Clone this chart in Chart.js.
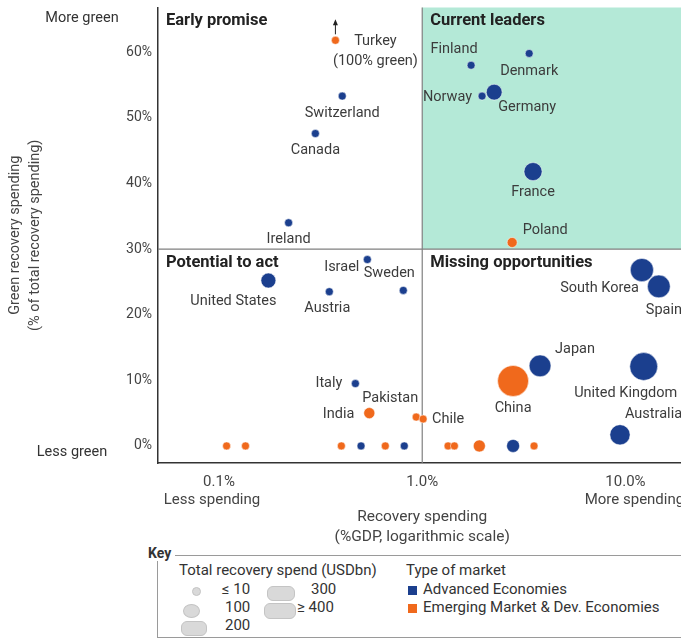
<!DOCTYPE html>
<html>
<head>
<meta charset="utf-8">
<script src="https://cdn.jsdelivr.net/npm/chart.js@4.4.1/dist/chart.umd.min.js"></script>
<style>
  html, body { margin:0; padding:0; background:#fff; overflow:hidden; width:681px; height:639px; }
  body { font-family: Roboto, "Noto Sans", sans-serif; color:#333; position:relative; }
  /* le débordement des bulles impose 16px de marge en haut et à droite : on décale le canvas */
  #cadre { position:absolute; left:0; top:-9px; width:704px; height:554px; }
  #cle { position:absolute; left:157px; top:555px; width:560px; height:81px;
         border:1px solid #9a9a9a; border-right:none; font-size:15px; }
  #cle span, #cle div { position:absolute; white-space:nowrap; }
  #cleTitre { left:-10px; top:-11px; background:#fff; font-weight:bold; padding-right:4px; font-size:14px; }
  .ico { background:#d9d9d9; border:1px solid #c4c4c4; border-radius:6px; }
  .carre { width:9px; height:9px; }
</style>
</head>
<body>
<div id="cadre"><canvas id="chart"></canvas></div>
<div id="cle">
  <span id="cleTitre">Key</span>
  <span style="left:21px;top:5px">Total recovery spend (USDbn)</span>
  <div class="ico" style="left:34px;top:31px;width:7px;height:7px;border-radius:50%"></div>
  <span style="left:64px;top:24px">≤ 10</span>
  <div class="ico" style="left:25px;top:48px;width:15px;height:12px;border-radius:50%"></div>
  <span style="left:67px;top:42px">100</span>
  <div class="ico" style="left:23px;top:65px;width:24px;height:13px"></div>
  <span style="left:67px;top:60px">200</span>
  <div class="ico" style="left:109px;top:30px;width:26px;height:13px"></div>
  <span style="left:153px;top:24px">300</span>
  <div class="ico" style="left:106px;top:47px;width:30px;height:14px"></div>
  <span style="left:139px;top:42px">≥ 400</span>
  <span style="left:248px;top:5px">Type of market</span>
  <div class="carre" style="left:250px;top:30px;background:#1b3f8e"></div>
  <span style="left:265px;top:24px">Advanced Economies</span>
  <div class="carre" style="left:250px;top:48px;background:#f0691c"></div>
  <span style="left:265px;top:42px">Emerging Market &amp; Dev. Economies</span>
</div>
<script>
// données
const pays = ['Turkey','Switzerland','Canada','Ireland','Finland','Denmark','Norway','Germany','France','Poland',
  'United States','Israel','Sweden','Austria','Italy','India','Pakistan','Chile',
  'South Korea','Spain','Japan','China','United Kingdom','Australia',
  '','','','','','','','','','',''];
// dépense de relance en % du PIB
const depensePIB = [0.374,0.404,0.298,0.22,1.74,3.36,1.97,2.26,3.51,2.77,
  0.175,0.537,0.807,0.349,0.469,0.549,0.934,1.01,
  12.05,14.6,3.8,2.8,12.3,9.4,
  0.109,0.135,0.40,0.50,0.658,0.816,1.34,1.44,1.91,2.8,3.55];
// part verte de la dépense (%)
const partVerte = [61.8,53.3,47.6,34.0,58.0,59.8,53.3,53.9,41.8,31.0,
  25.2,28.4,23.7,23.5,9.5,5.0,4.4,4.1,
  26.8,24.3,12.2,9.9,12.1,1.7,
  0,0,0,0,0,0,0,0,0,0,0];
// dépense totale (USDbn)
const depenseTotale = [10,10,10,10,10,10,10,55,85,13,
  45,10,10,10,10,17,10,10,
  180,170,150,400,300,120,
  10,10,10,10,10,10,10,10,22,28,10];
// A = économie avancée, E = émergente
const typeMarche = ['E','A','A','A','A','A','A','A','A','E',
  'A','A','A','A','A','E','E','E',
  'A','A','A','E','A','A',
  'E','E','E','A','E','A','E','E','E','A','E'];

const ticksX = [0.1, 1, 10];
const labelsX = ['0.1%', '1.0%', '10.0%'];
const ticksY = [0, 10, 20, 30, 40, 50, 60];
const seuilDepense = 1;
const seuilVert = 30;

const bleu = '#1b3f8e';
const orange = '#f0691c';

// placement des étiquettes [dx, dy, alignement]
const placement = {
  'Turkey':[40,1,'center'], 'Switzerland':[0,17,'center'], 'Canada':[0,17,'center'], 'Ireland':[0,17,'center'],
  'Finland':[-17,-16,'center'], 'Denmark':[0,18,'center'], 'Norway':[-10,1,'right'], 'Germany':[33,15,'center'],
  'France':[0,21,'center'], 'Poland':[33,-12,'center'], 'United States':[-35,21,'center'], 'Israel':[-8,8,'right'],
  'Sweden':[-14,-17,'center'], 'Austria':[-2,17,'center'], 'Italy':[-13,0,'right'], 'India':[-15,1,'right'],
  'Pakistan':[-26,-19,'center'], 'Chile':[9,0,'left'], 'South Korea':[-3,18,'right'], 'Spain':[-13,24,'left'],
  'Japan':[15,-16,'left'], 'China':[0,27,'center'], 'United Kingdom':[-18,27,'center'], 'Australia':[5,-20,'left']
};
const texteLabel = { 'Turkey':['Turkey','(100% green)'] };

function rayon(s){
  const v = Math.min(Math.max(s,10),400);
  return 4 + 11.5*Math.sqrt((v-10)/390);
}

function serie(t){
  const pts = [];
  for(var i=0; i<pays.length; i++){
    if(typeMarche[i]===t){
      pts.push({x:depensePIB[i], y:partVerte[i], r:rayon(depenseTotale[i]), nom:pays[i]});
    }
  }
  return pts;
}

const quadrants = {
  id:'quadrants',
  beforeDatasetsDraw(chart){
    const {ctx, chartArea:a, scales:{x,y}} = chart;
    const xs = x.getPixelForValue(seuilDepense), ys = y.getPixelForValue(seuilVert);
    ctx.save();
    ctx.fillStyle = '#b4e9d7';
    ctx.fillRect(xs, a.top, a.right-xs, ys-a.top);
    ctx.strokeStyle = '#808080';
    ctx.lineWidth = 1.2;
    ctx.beginPath();
    ctx.moveTo(xs, a.top); ctx.lineTo(xs, a.bottom);
    ctx.moveTo(a.left, ys); ctx.lineTo(a.right, ys);
    ctx.stroke();
    ctx.restore();
  },
  afterDatasetsDraw(chart){
    const {ctx, chartArea:a, scales:{x,y}} = chart;
    const xs = x.getPixelForValue(seuilDepense), ys = y.getPixelForValue(seuilVert);
    ctx.save();
    // titres des quadrants
    ctx.font = 'bold 16.5px Roboto';
    ctx.fillStyle = '#222';
    ctx.textBaseline = 'middle';
    ctx.textAlign = 'left';
    ctx.fillText('Early promise', a.left+8, a.top+13);
    ctx.fillText('Current leaders', xs+8, a.top+13);
    ctx.fillText('Potential to act', a.left+8, ys+14);
    ctx.fillText('Missing opportunities', xs+8, ys+14);
    // étiquettes des pays
    ctx.font = '14.5px Roboto';
    ctx.fillStyle = '#3c3c3c';
    chart.data.datasets.forEach((ds, di) => {
      const meta = chart.getDatasetMeta(di);
      ds.data.forEach((p, i) => {
        if(!p.nom) return;
        const el = meta.data[i];
        const pl = placement[p.nom] || [0,16,'center'];
        const lignes = texteLabel[p.nom] || [p.nom];
        ctx.textAlign = pl[2];
        lignes.forEach((l, k) => ctx.fillText(l, el.x+pl[0], el.y+pl[1]+k*20));
        if(p.nom==='Turkey'){
          // flèche : la valeur réelle est hors échelle
          ctx.strokeStyle = '#222'; ctx.lineWidth = 1;
          ctx.beginPath(); ctx.moveTo(el.x, el.y-6); ctx.lineTo(el.x, el.y-17); ctx.stroke();
          ctx.fillStyle = '#222';
          ctx.beginPath(); ctx.moveTo(el.x, el.y-21); ctx.lineTo(el.x-2.5, el.y-15); ctx.lineTo(el.x+2.5, el.y-15); ctx.fill();
          ctx.fillStyle = '#3c3c3c';
        }
      });
    });
    // textes de l'axe vertical
    const y0 = y.getPixelForValue(0);
    ctx.font = '14.5px Roboto';
    ctx.fillStyle = '#333';
    ctx.textAlign = 'center';
    ctx.fillText('More green', 82, a.top+11);
    ctx.fillText('Less green', 72, y0+6);
    ctx.translate(0, (a.top+a.bottom)/2);
    ctx.rotate(-Math.PI/2);
    ctx.fillStyle = '#444';
    ctx.fillText('Green recovery spending', 0, 15);
    ctx.fillText('(% of total recovery spending)', 0, 35);
    ctx.restore();
    // textes de l'axe horizontal
    ctx.save();
    ctx.font = '15px Roboto';
    ctx.fillStyle = '#444';
    ctx.textAlign = 'center';
    ctx.textBaseline = 'middle';
    ctx.fillText('Less spending', x.getPixelForValue(ticksX[0])-7, a.bottom+37);
    ctx.fillText('More spending', x.getPixelForValue(ticksX[2])+9, a.bottom+37);
    ctx.font = '15.5px Roboto';
    ctx.fillText('Recovery spending', xs, a.bottom+54);
    ctx.fillText('(%GDP, logarithmic scale)', xs, a.bottom+74);
    ctx.restore();
  }
};

var ctx = document.getElementById('chart').getContext('2d');
var graph = new Chart(ctx, {
  type:'bubble',
  data:{
    datasets:[{
      label:'Advanced Economies',
      data:serie('A'),
      backgroundColor:bleu,
      borderColor:'rgba(255,255,255,0.5)',
      borderWidth:1
    },{
      label:'Emerging Market & Dev. Economies',
      data:serie('E'),
      backgroundColor:orange,
      borderColor:'rgba(255,255,255,0.5)',
      borderWidth:1
    }]
  },
  options:{
    responsive:true,
    maintainAspectRatio:false,
    animation:false,
    layout:{ padding:{ top:7, right:2, left:0, bottom:0 } },
    plugins:{ legend:{display:false}, tooltip:{enabled:false} },
    scales:{
      x:{
        type:'logarithmic',
        min:0.0501, max:20.2,
        grid:{ display:false, drawTicks:false },
        border:{ display:true, color:'#333', width:1.5 },
        afterBuildTicks:(s) => { s.ticks = ticksX.map(v => ({value:v})); },
        afterFit:(s) => { s.height = 82; s.paddingLeft = 0; s.paddingRight = 0; },
        ticks:{
          autoSkip:false, maxRotation:0, padding:10,
          color:'#444', font:{family:'Roboto', size:15},
          callback:(v) => labelsX[ticksX.indexOf(v)]
        }
      },
      y:{
        min:-2.6, max:66.8,
        grid:{ display:false, drawTicks:false },
        border:{ display:true, color:'#333', width:1.5 },
        afterBuildTicks:(s) => { s.ticks = ticksY.map(v => ({value:v})); },
        afterFit:(s) => { s.width = 158; s.paddingTop = 0; s.paddingBottom = 0; },
        ticks:{
          padding:6, color:'#444', font:{family:'Roboto', size:14},
          callback:(v) => v + '%'
        }
      }
    }
  },
  plugins:[quadrants]
});
</script>
</body>
</html>
